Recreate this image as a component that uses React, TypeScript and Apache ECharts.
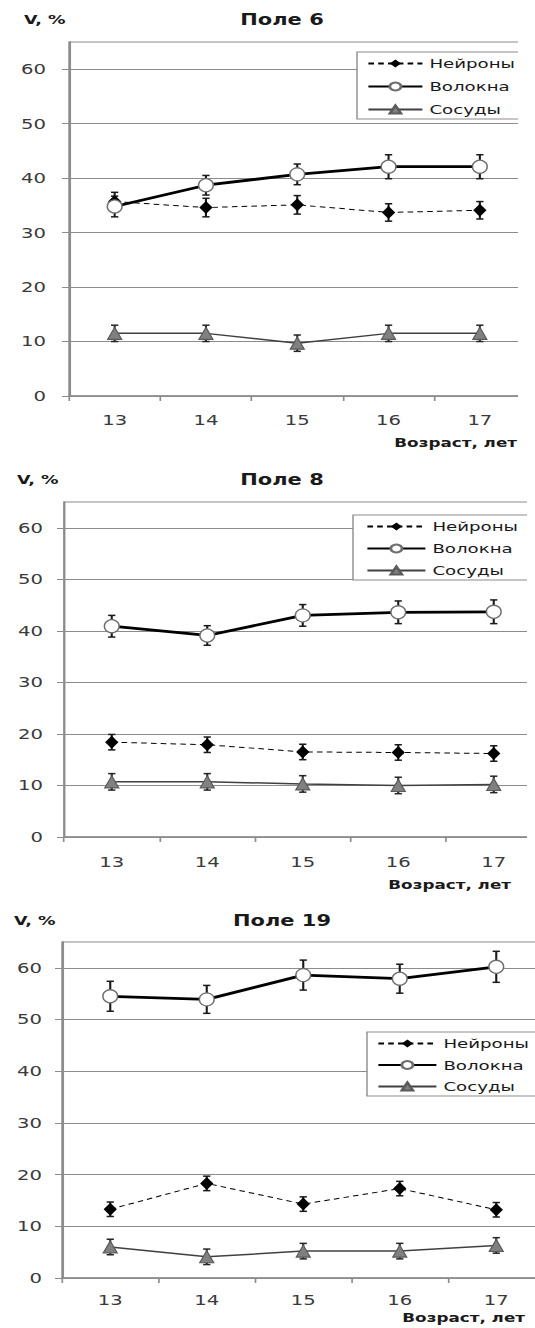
import React, { useEffect, useRef } from 'react';
import * as echarts from 'echarts';

// ---------- data ----------
const AGES = ['13', '14', '15', '16', '17'];
const Y_TICKS = [0, 10, 20, 30, 40, 50, 60];
const SERIES_NAMES = ['Нейроны', 'Волокна', 'Сосуды'];
const Y_NAME = 'V, %';
const X_NAME = 'Возраст, лет';

// Поле 6
const NEURONS_6 = [35.7, 34.6, 35.1, 33.7, 34.1];
const NEURONS_6_ERR = [1.7, 1.7, 1.7, 1.6, 1.6];
const FIBERS_6 = [34.8, 38.7, 40.7, 42.1, 42.1];
const FIBERS_6_ERR = [1.9, 1.8, 1.9, 2.2, 2.2];
const VESSELS_6 = [11.5, 11.5, 9.7, 11.5, 11.5];
const VESSELS_6_ERR = [1.5, 1.5, 1.5, 1.5, 1.5];

// Поле 8
const NEURONS_8 = [18.4, 17.9, 16.5, 16.4, 16.2];
const NEURONS_8_ERR = [1.5, 1.5, 1.5, 1.5, 1.5];
const FIBERS_8 = [40.9, 39.1, 43.0, 43.6, 43.7];
const FIBERS_8_ERR = [2.1, 1.9, 2.1, 2.2, 2.3];
const VESSELS_8 = [10.7, 10.7, 10.3, 10.0, 10.2];
const VESSELS_8_ERR = [1.6, 1.6, 1.6, 1.6, 1.6];

// Поле 19
const NEURONS_19 = [13.3, 18.3, 14.3, 17.3, 13.2];
const NEURONS_19_ERR = [1.4, 1.4, 1.4, 1.4, 1.4];
const FIBERS_19 = [54.5, 53.9, 58.6, 57.9, 60.2];
const FIBERS_19_ERR = [2.9, 2.7, 2.9, 2.8, 3.0];
const VESSELS_19 = [6.0, 4.1, 5.2, 5.2, 6.3];
const VESSELS_19_ERR = [1.5, 1.5, 1.5, 1.5, 1.5];

// ---------- styling ----------
const SX = 1.4; // horizontal stretch of the original figure
const FONT = '"DejaVu Sans", Verdana, sans-serif';
const GRID_COLOR = '#8c8c8c';
const LABEL_COLOR = '#3a3a3a';

type PanelCfg = {
  title: string;
  neurons: number[]; neuronsErr: number[];
  fibers: number[]; fibersErr: number[];
  vessels: number[]; vesselsErr: number[];
  top: number; height: number; clip: number;
  gLeft: number; gTop: number; gWidth: number; gHeight: number;
  titleY: number; vLeft: number; vY: number;
  xNameRight: number; xNameY: number;
  xLabelMargin: number; yLabelMargin: number;
  legendLeft: number; legendTop: number; legendGap: number;
  legendPadLeft: number; legendItemWidth: number;
};

const PANELS: PanelCfg[] = [
  {
    title: 'Поле 6',
    neurons: NEURONS_6, neuronsErr: NEURONS_6_ERR,
    fibers: FIBERS_6, fibersErr: FIBERS_6_ERR,
    vessels: VESSELS_6, vesselsErr: VESSELS_6_ERR,
    top: 0, height: 455, clip: 518,
    gLeft: 69, gTop: 42, gWidth: 456.5, gHeight: 354,
    titleY: 20, vLeft: 24, vY: 20,
    xNameRight: 517, xNameY: 442,
    xLabelMargin: 17, yLabelMargin: 23,
    legendLeft: 357, legendTop: 52, legendGap: 10,
    legendPadLeft: 10, legendItemWidth: 54,
  },
  {
    title: 'Поле 8',
    neurons: NEURONS_8, neuronsErr: NEURONS_8_ERR,
    fibers: FIBERS_8, fibersErr: FIBERS_8_ERR,
    vessels: VESSELS_8, vesselsErr: VESSELS_8_ERR,
    top: 455, height: 440, clip: 527,
    gLeft: 64, gTop: 47, gWidth: 477.5, gHeight: 335,
    titleY: 25, vLeft: 17, vY: 25,
    xNameRight: 511, xNameY: 429,
    xLabelMargin: 18, yLabelMargin: 21,
    legendLeft: 353, legendTop: 60, legendGap: 9,
    legendPadLeft: 13, legendItemWidth: 58,
  },
  {
    title: 'Поле 19',
    neurons: NEURONS_19, neuronsErr: NEURONS_19_ERR,
    fibers: FIBERS_19, fibersErr: FIBERS_19_ERR,
    vessels: VESSELS_19, vesselsErr: VESSELS_19_ERR,
    top: 895, height: 433, clip: 535,
    gLeft: 62, gTop: 47, gWidth: 482.5, gHeight: 336,
    titleY: 26, vLeft: 14, vY: 26,
    xNameRight: 525, xNameY: 422,
    xLabelMargin: 15, yLabelMargin: 20,
    legendLeft: 367, legendTop: 137, legendGap: 8.5,
    legendPadLeft: 10, legendItemWidth: 58,
  },
];

function errData(vals: number[], errs: number[]) {
  return vals.map((v, i) => [i, v - errs[i], v + errs[i]]);
}

function errSeries(vals: number[], errs: number[], color: string) {
  return {
    type: 'custom',
    z: 1,
    silent: true,
    encode: { x: 0, y: [1, 2] },
    data: errData(vals, errs),
    renderItem: (params: any, api: any) => {
      const i = api.value(0);
      const lo = api.coord([i, api.value(1)]);
      const hi = api.coord([i, api.value(2)]);
      const hw = 2.6;
      const style = { stroke: color, lineWidth: 1.5 };
      return {
        type: 'group',
        children: [
          { type: 'line', shape: { x1: hi[0], y1: hi[1], x2: lo[0], y2: lo[1] }, style },
          { type: 'line', shape: { x1: hi[0] - hw, y1: hi[1], x2: hi[0] + hw, y2: hi[1] }, style },
          { type: 'line', shape: { x1: lo[0] - hw, y1: lo[1], x2: lo[0] + hw, y2: lo[1] }, style },
        ],
      };
    },
  };
}

function makeOption(p: PanelCfg): any {
  const txt = (text: string, x: number, y: number, align: string, size: number, bold: boolean, fill: string) => ({
    type: 'text',
    x, y,
    style: {
      text, fill,
      fontSize: size, fontWeight: bold ? 'bold' : 'normal', fontFamily: FONT,
      align, verticalAlign: 'middle', textAlign: align, textVerticalAlign: 'middle',
    },
  });
  return {
    animation: false,
    backgroundColor: '#ffffff',
    grid: {
      left: p.gLeft / SX, top: p.gTop, width: p.gWidth / SX, height: p.gHeight,
      show: true, borderColor: GRID_COLOR, borderWidth: 1, backgroundColor: 'transparent',
    },
    xAxis: {
      type: 'category',
      data: AGES,
      boundaryGap: true,
      axisLine: { lineStyle: { color: GRID_COLOR, width: 1.5 } },
      axisTick: { show: true, length: 5, lineStyle: { color: GRID_COLOR, width: 1.2 } },
      axisLabel: { color: LABEL_COLOR, fontSize: 14, fontFamily: FONT, margin: p.xLabelMargin },
      splitLine: { show: false },
    },
    yAxis: {
      type: 'value',
      min: 0, max: 65, interval: 10,
      axisLine: { show: true, lineStyle: { color: GRID_COLOR, width: 1.5 } },
      axisTick: { show: true, length: 5, customValues: Y_TICKS, lineStyle: { color: GRID_COLOR, width: 1 } },
      axisLabel: {
        color: LABEL_COLOR, fontSize: 14, fontFamily: FONT, margin: p.yLabelMargin / SX,
        formatter: (v: number) => (Y_TICKS.indexOf(v) >= 0 ? String(v) : ''),
      },
      splitLine: { show: true, lineStyle: { color: GRID_COLOR, width: 1 } },
    },
    legend: {
      orient: 'vertical',
      left: p.legendLeft / SX, top: p.legendTop,
      data: SERIES_NAMES,
      itemWidth: p.legendItemWidth / SX, itemHeight: 10, itemGap: p.legendGap,
      padding: [5, 30, 3, p.legendPadLeft / SX],
      borderColor: GRID_COLOR, borderWidth: 1, backgroundColor: '#ffffff',
      selectedMode: false,
      textStyle: { fontFamily: FONT, fontSize: 13, color: '#1a1a1a' },
    },
    graphic: [
      txt(p.title, 282 / SX, p.titleY, 'center', 15, true, '#1a1a1a'),
      txt(Y_NAME, p.vLeft / SX, p.vY, 'left', 12.5, true, '#1a1a1a'),
      txt(X_NAME, p.xNameRight / SX, p.xNameY, 'right', 12, true, '#1a1a1a'),
    ],
    series: [
      errSeries(p.neurons, p.neuronsErr, '#1a1a1a'),
      errSeries(p.vessels, p.vesselsErr, '#262626'),
      errSeries(p.fibers, p.fibersErr, '#1a1a1a'),
      {
        name: 'Нейроны', type: 'line', z: 3, data: p.neurons,
        symbol: 'diamond', symbolSize: [9.5, 13],
        itemStyle: { color: '#000000' },
        lineStyle: { color: '#000000', width: 1, type: [4, 3] },
      },
      {
        name: 'Сосуды', type: 'line', z: 3, data: p.vessels,
        symbol: 'triangle', symbolSize: [10, 12],
        itemStyle: { color: '#808080', borderColor: '#5a5a5a', borderWidth: 1 },
        lineStyle: { color: '#404040', width: 1.5 },
      },
      {
        name: 'Волокна', type: 'line', z: 4, data: p.fibers,
        symbol: 'circle', symbolSize: [10.5, 13],
        itemStyle: { color: '#ffffff', borderColor: '#6e6e6e', borderWidth: 1.2 },
        lineStyle: { color: '#000000', width: 2.8 },
      },
    ],
  };
}

function Panel({ cfg }: { cfg: PanelCfg }) {
  const ref = useRef<HTMLDivElement>(null);
  useEffect(() => {
    if (!ref.current) return;
    const chart = echarts.init(ref.current, undefined, { renderer: 'svg' });
    chart.setOption(makeOption(cfg));
    return () => chart.dispose();
  }, [cfg]);
  return (
    <div
      style={{
        position: 'absolute', left: 0, top: cfg.top,
        width: cfg.clip, height: cfg.height, overflow: 'hidden', background: '#fff',
      }}
    >
      <div
        ref={ref}
        style={{
          width: 420, height: cfg.height,
          transform: `scaleX(${SX})`, transformOrigin: '0 0',
        }}
      />
    </div>
  );
}

export default function App() {
  return (
    <div style={{ position: 'absolute', left: 0, top: 0, width: 535, height: 1328, background: '#fff' }}>
      {PANELS.map((p) => (
        <Panel key={p.title} cfg={p} />
      ))}
    </div>
  );
}
